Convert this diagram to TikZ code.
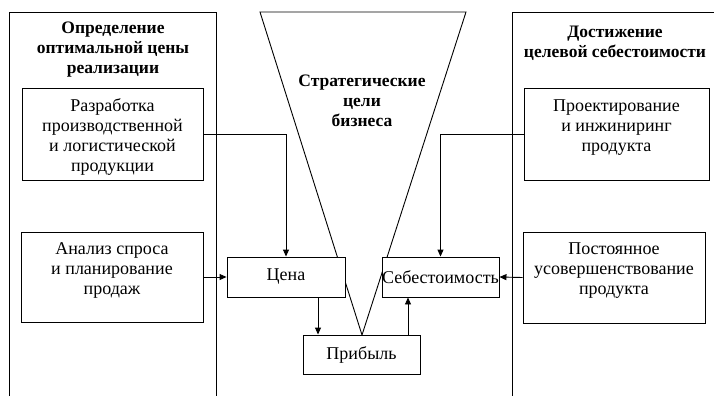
\documentclass[tikz,border=0pt]{standalone}
\usepackage{fontspec}
\setmainfont{Liberation Serif}
\usetikzlibrary{arrows.meta,calc}
\begin{document}
\begin{tikzpicture}[x=1pt,y=-1pt,
  line width=0.9pt,
  txt/.style={font=\fontsize{18}{20}\selectfont, align=center},
  hdr/.style={font=\fontsize{17.5}{20}\selectfont\bfseries, align=center},
  box/.style={draw, fill=white, txt, inner sep=0pt},
  arr/.style={-{Triangle[length=7pt,width=6pt]}}]
\useasboundingbox (0,0) rectangle (714,396);

% outer frames (open at the page border)
\draw (9,396) -- (9,12) -- (216,12) -- (216,396);
\draw (714,12) -- (512,12) -- (512,396);

% funnel of strategic goals
\coordinate (ftl) at (260,12);
\coordinate (ftr) at (466,12);
\coordinate (fapex) at (362,335);
\draw (ftl) -- (ftr) -- (fapex) -- cycle;

% headings
\node[hdr] (hleft) at (113,50) {Определение\\оптимальной цены\\реализации};
\node[hdr] (hright) at (615,43) {Достижение\\целевой себестоимости};
\node[hdr] (hgoal) at (362,101) {Стратегические\\цели\\бизнеса};

% side boxes (frames) and their texts
\node[box, minimum width=181, minimum height=92] (raz) at (112.5,134) {};
\node[txt] (razt) at (112.5,137) {Разработка\\производственной\\и логистической\\продукции};
\node[box, minimum width=182, minimum height=90] (anal) at (112,277) {};
\node[txt] (analt) at (112,270) {Анализ спроса\\и планирование\\продаж};
\node[box, minimum width=185, minimum height=92] (proekt) at (616.5,134) {};
\node[txt] (proektt) at (616.5,128) {Проектирование\\и инжиниринг\\продукта};
\node[box, minimum width=182, minimum height=91] (post) at (614,277.5) {};
\node[txt] (postt) at (614,271) {Постоянное\\усовершенствование\\продукта};

% central boxes
\node[box, minimum width=118, minimum height=40] (cena) at (286,277) {Цена};
\node[box, minimum width=117, minimum height=40] (seb) at (440.5,277) {Себестоимость};
\node[box, minimum width=117, minimum height=39] (prib) at (361.5,354.5) {Прибыль};

% connectors
\draw[arr] (raz.east) -| (cena.north);
\draw[arr] (anal.east) -- (cena.west);
\draw[arr] (proekt.west) -| (seb.north);
\draw[arr] (post.west) -- (seb.east);
\coordinate (cp) at ([xshift=32pt]cena.south);
\draw[arr] (cp) -- (cp |- prib.north);
\coordinate (ps) at ([xshift=46.5pt]prib.north);
\draw[arr] (ps) -- (ps |- seb.south);
\end{tikzpicture}
\end{document}
